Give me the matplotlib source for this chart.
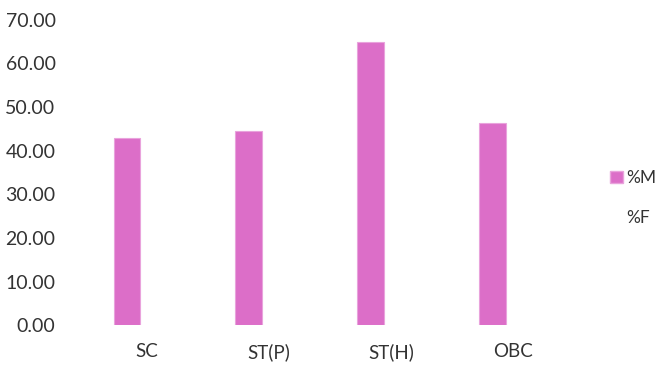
import numpy as np
from matplotlib import pyplot as plt
from matplotlib.patches import Patch

# data
categories = ["SC", "ST(P)", "ST(H)", "OBC"]
pct_m = [42.9, 44.5, 64.9, 46.3]
pct_f = [57.1, 55.5, 35.1, 53.7]  # drawn in white in the original
yticks = [0, 10, 20, 30, 40, 50, 60, 70]

plt.rcParams["font.family"] = ["Lato", "DejaVu Sans"]

fig = plt.figure(figsize=(6.62, 3.67), dpi=100)
ax = fig.add_axes([0.13, 0.114, 0.737, 0.832])

x = np.arange(len(categories))
w = 0.22
pink = "#dc6ec8"
ax.bar(x - 0.165, pct_m, w, color=pink, edgecolor="#e9a3dc", linewidth=0.8)
ax.bar(x + 0.165, pct_f, w, color="white", edgecolor="none")

ax.set_xlim(-0.5, len(categories) - 0.5)
ax.set_ylim(0, 70)
ax.set_yticks(yticks)
ax.set_yticklabels(["%.2f" % v for v in yticks], fontsize=14, color="#333333")
ax.set_xticks(x)
ax.set_xticklabels(categories, fontsize=13.5, color="#333333")
ax.tick_params(length=0, axis="y", pad=22)
ax.tick_params(length=0, axis="x", pad=13)
for s in ax.spines.values():
    s.set_visible(False)

handles = [Patch(facecolor=pink, edgecolor="#e9a3dc"),
           Patch(facecolor="white", edgecolor="none")]
fig.legend(handles, ["%M", "%F"], loc="center left",
           bbox_to_anchor=(0.922, 0.46), frameon=False, fontsize=12.5,
           handlelength=0.7, handleheight=0.7, handletextpad=0.2,
           labelspacing=1.4, labelcolor="#333333", borderaxespad=0,
           borderpad=0)

fig.savefig("out.png", dpi=100)
